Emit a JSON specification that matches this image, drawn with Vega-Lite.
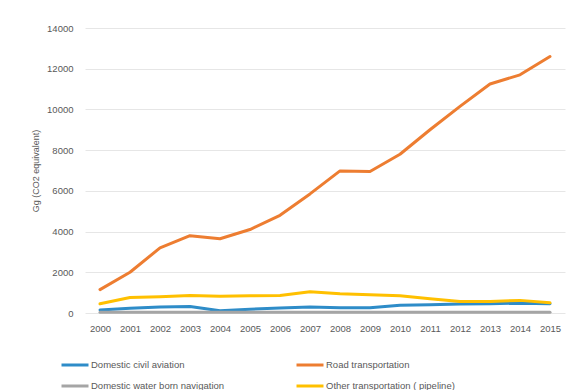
{
  "$schema": "https://vega.github.io/schema/vega-lite/v6.json",
  "width": 480,
  "height": 285,
  "autosize": {"type": "none"},
  "padding": {"left": 85, "top": 28, "right": 17, "bottom": 77},
  "background": "white",
  "config": {
    "view": {"stroke": null},
    "font": "Liberation Sans"
  },
  "data": {
    "values": [
      {"year": "2000", "series": "Domestic civil aviation", "value": 150},
      {"year": "2001", "series": "Domestic civil aviation", "value": 230},
      {"year": "2002", "series": "Domestic civil aviation", "value": 300},
      {"year": "2003", "series": "Domestic civil aviation", "value": 320},
      {"year": "2004", "series": "Domestic civil aviation", "value": 110},
      {"year": "2005", "series": "Domestic civil aviation", "value": 190},
      {"year": "2006", "series": "Domestic civil aviation", "value": 250},
      {"year": "2007", "series": "Domestic civil aviation", "value": 300},
      {"year": "2008", "series": "Domestic civil aviation", "value": 260},
      {"year": "2009", "series": "Domestic civil aviation", "value": 260},
      {"year": "2010", "series": "Domestic civil aviation", "value": 380},
      {"year": "2011", "series": "Domestic civil aviation", "value": 410},
      {"year": "2012", "series": "Domestic civil aviation", "value": 440},
      {"year": "2013", "series": "Domestic civil aviation", "value": 460},
      {"year": "2014", "series": "Domestic civil aviation", "value": 480},
      {"year": "2015", "series": "Domestic civil aviation", "value": 460},
      {"year": "2000", "series": "Road transportation", "value": 1150},
      {"year": "2001", "series": "Road transportation", "value": 2000},
      {"year": "2002", "series": "Road transportation", "value": 3200},
      {"year": "2003", "series": "Road transportation", "value": 3800},
      {"year": "2004", "series": "Road transportation", "value": 3650},
      {"year": "2005", "series": "Road transportation", "value": 4100},
      {"year": "2006", "series": "Road transportation", "value": 4800},
      {"year": "2007", "series": "Road transportation", "value": 5850},
      {"year": "2008", "series": "Road transportation", "value": 6980},
      {"year": "2009", "series": "Road transportation", "value": 6950},
      {"year": "2010", "series": "Road transportation", "value": 7800},
      {"year": "2011", "series": "Road transportation", "value": 9000},
      {"year": "2012", "series": "Road transportation", "value": 10150},
      {"year": "2013", "series": "Road transportation", "value": 11250},
      {"year": "2014", "series": "Road transportation", "value": 11700},
      {"year": "2015", "series": "Road transportation", "value": 12600},
      {"year": "2000", "series": "Domestic water born navigation", "value": 40},
      {"year": "2001", "series": "Domestic water born navigation", "value": 40},
      {"year": "2002", "series": "Domestic water born navigation", "value": 40},
      {"year": "2003", "series": "Domestic water born navigation", "value": 40},
      {"year": "2004", "series": "Domestic water born navigation", "value": 40},
      {"year": "2005", "series": "Domestic water born navigation", "value": 40},
      {"year": "2006", "series": "Domestic water born navigation", "value": 40},
      {"year": "2007", "series": "Domestic water born navigation", "value": 40},
      {"year": "2008", "series": "Domestic water born navigation", "value": 40},
      {"year": "2009", "series": "Domestic water born navigation", "value": 40},
      {"year": "2010", "series": "Domestic water born navigation", "value": 40},
      {"year": "2011", "series": "Domestic water born navigation", "value": 40},
      {"year": "2012", "series": "Domestic water born navigation", "value": 40},
      {"year": "2013", "series": "Domestic water born navigation", "value": 40},
      {"year": "2014", "series": "Domestic water born navigation", "value": 40},
      {"year": "2015", "series": "Domestic water born navigation", "value": 40},
      {"year": "2000", "series": "Other transportation ( pipeline)", "value": 450},
      {"year": "2001", "series": "Other transportation ( pipeline)", "value": 760},
      {"year": "2002", "series": "Other transportation ( pipeline)", "value": 800},
      {"year": "2003", "series": "Other transportation ( pipeline)", "value": 860},
      {"year": "2004", "series": "Other transportation ( pipeline)", "value": 820},
      {"year": "2005", "series": "Other transportation ( pipeline)", "value": 850},
      {"year": "2006", "series": "Other transportation ( pipeline)", "value": 860},
      {"year": "2007", "series": "Other transportation ( pipeline)", "value": 1040},
      {"year": "2008", "series": "Other transportation ( pipeline)", "value": 950},
      {"year": "2009", "series": "Other transportation ( pipeline)", "value": 900},
      {"year": "2010", "series": "Other transportation ( pipeline)", "value": 850},
      {"year": "2011", "series": "Other transportation ( pipeline)", "value": 700},
      {"year": "2012", "series": "Other transportation ( pipeline)", "value": 560},
      {"year": "2013", "series": "Other transportation ( pipeline)", "value": 560},
      {"year": "2014", "series": "Other transportation ( pipeline)", "value": 620},
      {"year": "2015", "series": "Other transportation ( pipeline)", "value": 500}
    ]
  },
  "mark": {"type": "line", "strokeWidth": 3, "strokeCap": "round", "strokeJoin": "round"},
  "encoding": {
    "x": {
      "field": "year",
      "type": "ordinal",
      "scale": {"type": "point", "padding": 0.5},
      "axis": {
        "title": null,
        "labelAngle": 0,
        "labelFontSize": 9.5,
        "labelColor": "#595959",
        "domain": false,
        "ticks": false,
        "labelPadding": 10
      }
    },
    "y": {
      "field": "value",
      "type": "quantitative",
      "scale": {"domain": [0, 14000]},
      "axis": {
        "values": [0, 2000, 4000, 6000, 8000, 10000, 12000, 14000],
        "format": "d",
        "title": "Gg (CO2 equivalent)",
        "titleFontSize": 9,
        "titleFontWeight": "normal",
        "titleColor": "#595959",
        "titlePadding": 6,
        "labelFontSize": 9.5,
        "labelColor": "#595959",
        "labelPadding": 12,
        "domain": false,
        "ticks": false,
        "gridColor": "#e6e6e6",
        "gridWidth": 1
      }
    },
    "color": {
      "field": "series",
      "type": "nominal",
      "scale": {
        "domain": ["Domestic civil aviation", "Road transportation", "Domestic water born navigation", "Other transportation ( pipeline)"],
        "range": ["#2E8CC8", "#ED7D31", "#A5A5A5", "#FFC000"]
      },
      "legend": {
        "title": null,
        "orient": "none",
        "direction": "horizontal",
        "legendX": -25,
        "legendY": 322,
        "columns": 2,
        "columnPadding": 65,
        "rowPadding": -13,
        "symbolType": "stroke",
        "symbolSize": 729,
        "symbolStrokeWidth": 3,
        "labelFontSize": 9.5,
        "labelColor": "#595959",
        "labelOffset": 1,
        "labelLimit": 300
      }
    }
  }
}
